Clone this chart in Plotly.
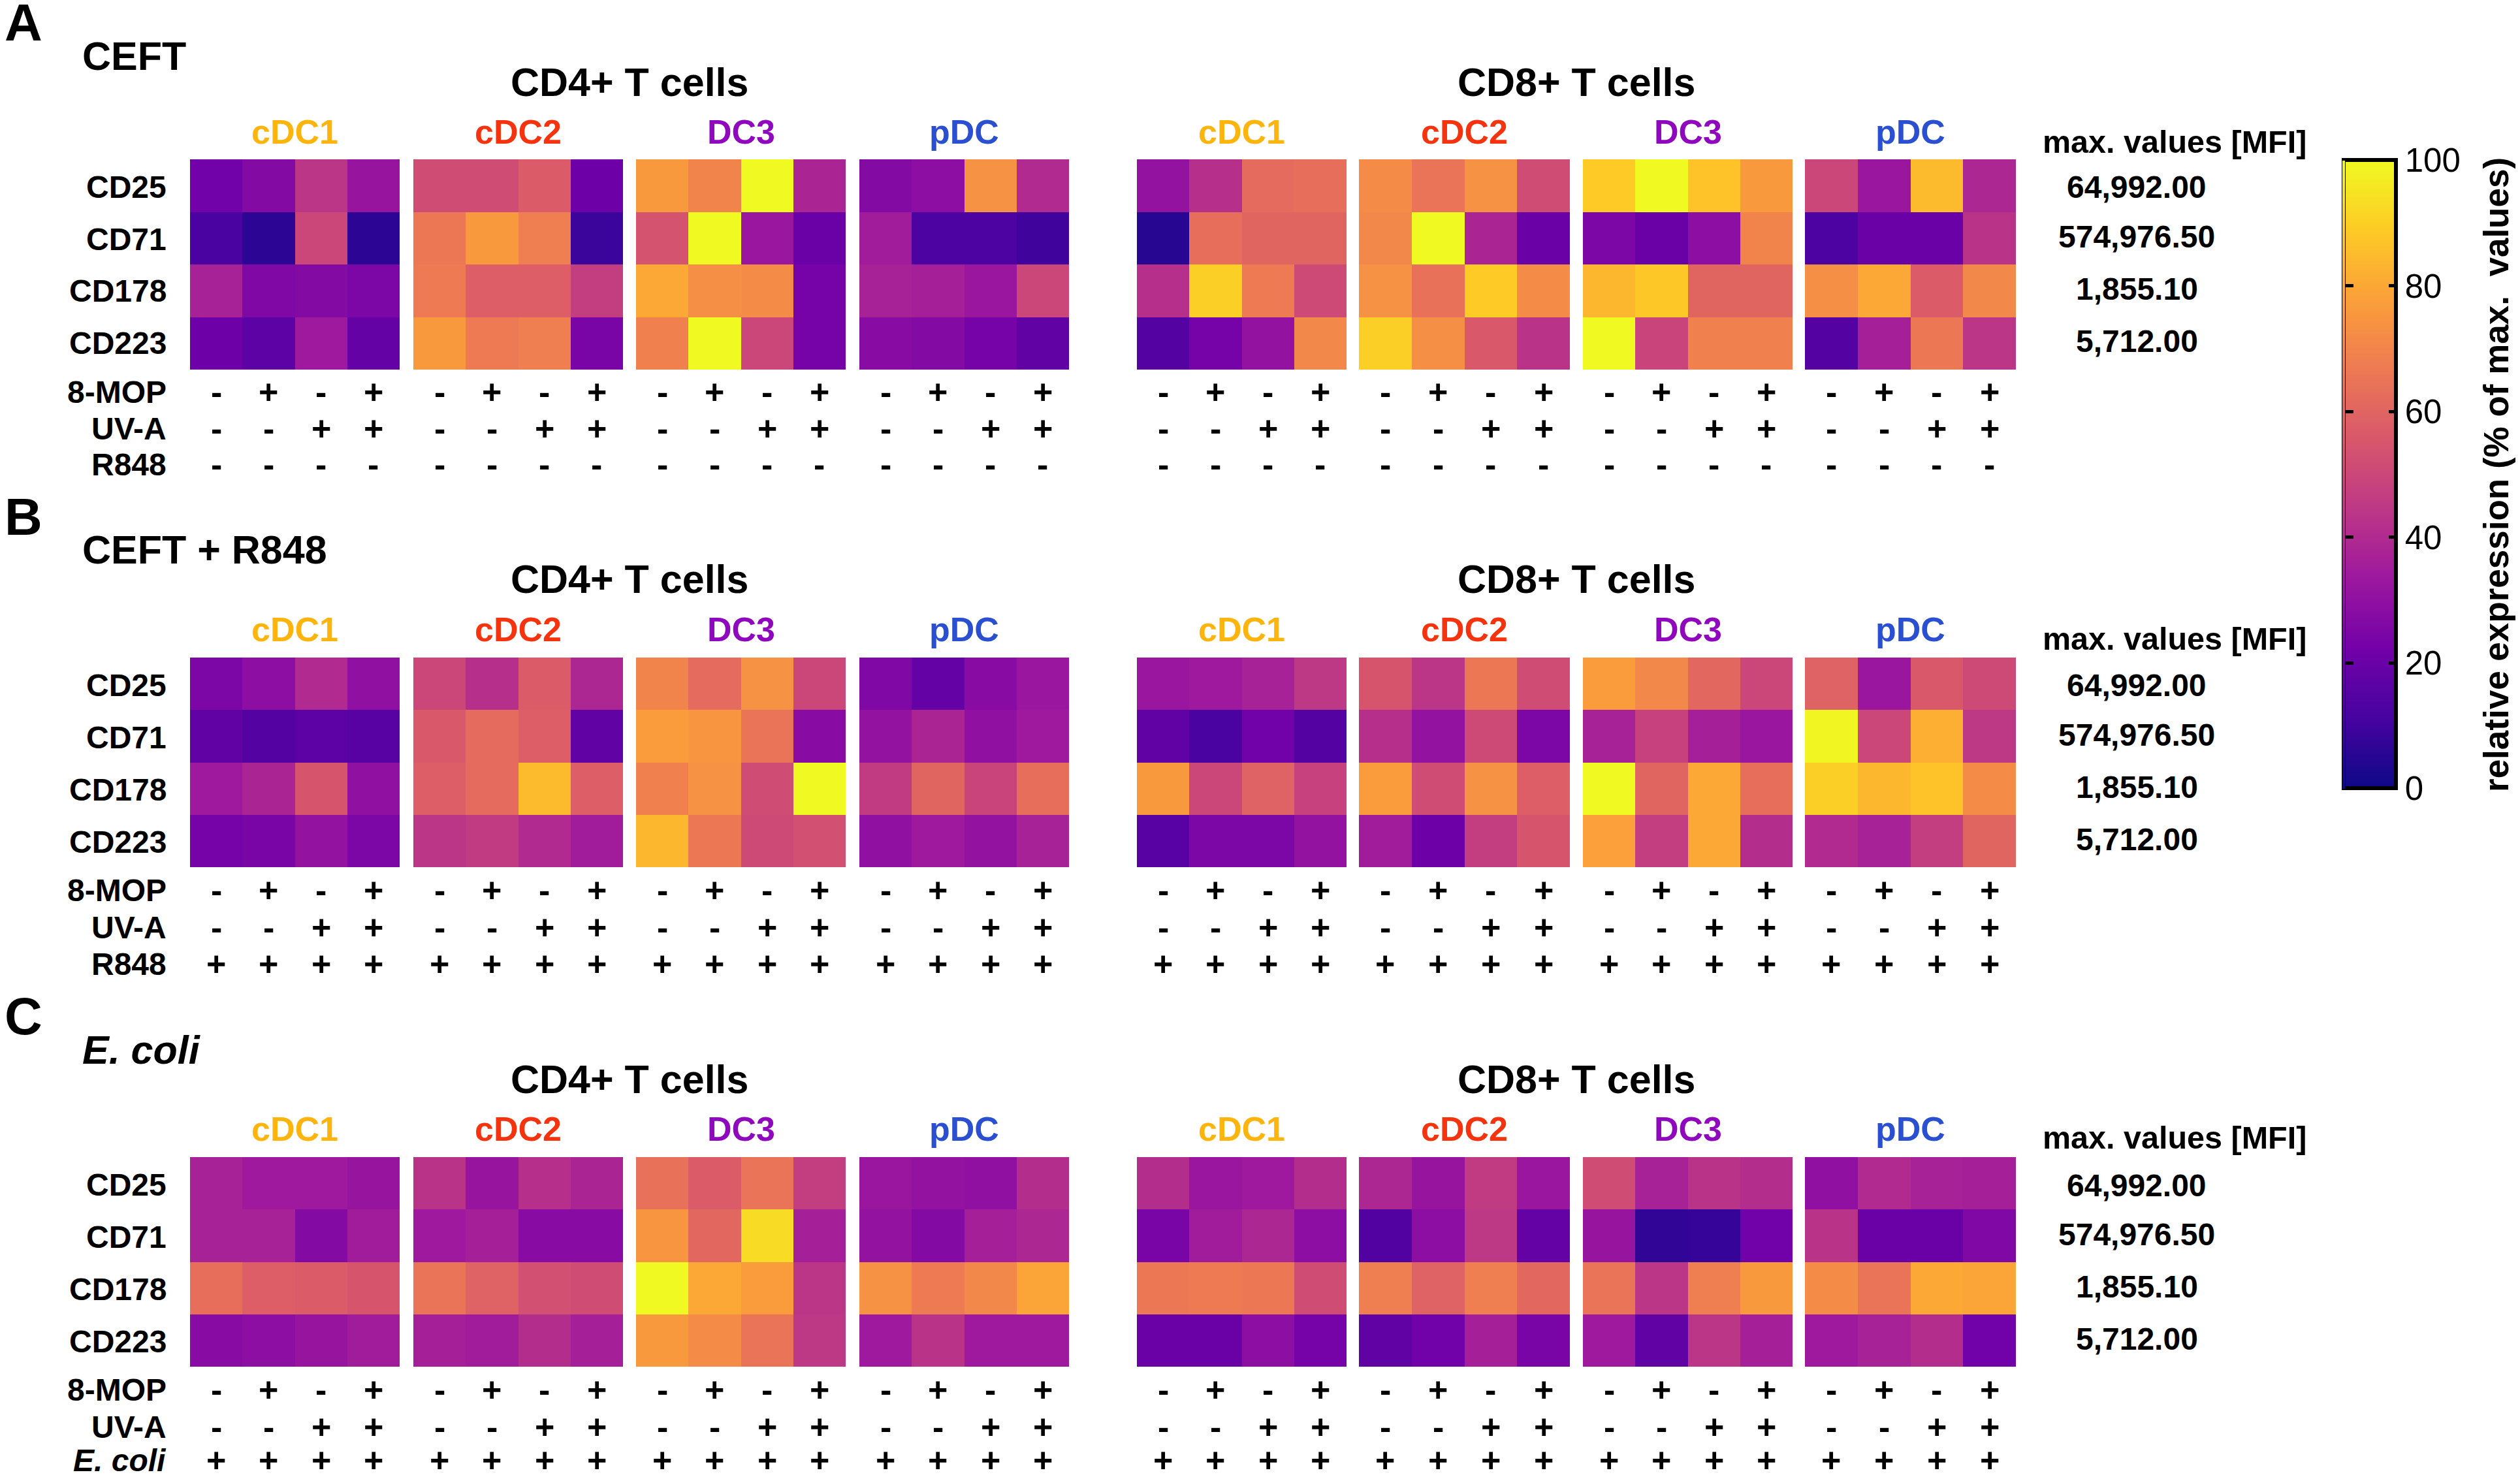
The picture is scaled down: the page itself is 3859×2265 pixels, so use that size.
import plotly.graph_objects as go

# Values (% of max. values), rows are CD25, CD71, CD178, CD223
A_CD4_cDC1 = [[22, 27, 44, 32], [12, 6, 50, 6], [37, 26, 27, 25], [21, 17, 34, 19]]
A_CD4_cDC2 = [[52, 52, 57, 21], [66, 76, 68, 9], [67, 58, 58, 47], [76, 67, 68, 24]]
A_CD4_DC3 = [[76, 70, 100, 38], [54, 100, 33, 20], [80, 73, 72, 23], [69, 100, 50, 23]]
A_CD4_pDC = [[27, 29, 74, 40], [35, 13, 13, 10], [37, 36, 33, 50], [28, 27, 23, 18]]
A_CD8_cDC1 = [[31, 42, 62, 63], [5, 63, 60, 60], [42, 90, 67, 51], [15, 23, 31, 71]]
A_CD8_cDC2 = [[72, 65, 74, 52], [71, 100, 38, 20], [74, 64, 89, 72], [90, 73, 56, 43]]
A_CD8_DC3 = [[89, 100, 87, 76], [25, 20, 29, 70], [84, 88, 60, 60], [100, 49, 69, 69]]
A_CD8_pDC = [[50, 33, 85, 39], [13, 20, 20, 43], [73, 80, 57, 71], [15, 36, 66, 44]]

B_CD4_cDC1 = [[25, 29, 40, 30], [18, 15, 17, 16], [34, 38, 55, 30], [23, 24, 31, 25]]
B_CD4_cDC2 = [[50, 42, 57, 39], [56, 62, 58, 18], [58, 62, 85, 58], [44, 46, 40, 35]]
B_CD4_DC3 = [[70, 62, 74, 50], [77, 75, 65, 28], [69, 74, 52, 100], [84, 66, 51, 53]]
B_CD4_pDC = [[26, 19, 28, 33], [31, 38, 30, 34], [46, 60, 49, 63], [30, 34, 31, 37]]
B_CD8_cDC1 = [[33, 34, 37, 45], [18, 12, 22, 15], [76, 50, 59, 48], [16, 25, 25, 31]]
B_CD8_cDC2 = [[55, 44, 66, 52], [42, 31, 51, 25], [77, 52, 74, 58], [35, 21, 47, 55]]
B_CD8_DC3 = [[77, 71, 61, 50], [37, 48, 36, 33], [100, 60, 80, 63], [78, 47, 80, 41]]
B_CD8_pDC = [[59, 33, 56, 51], [99, 50, 82, 45], [90, 84, 87, 72], [40, 37, 47, 60]]

C_CD4_cDC1 = [[37, 34, 34, 32], [37, 37, 27, 35], [63, 58, 57, 55], [28, 29, 32, 35]]
C_CD4_cDC2 = [[43, 32, 42, 38], [34, 36, 28, 28], [65, 59, 53, 52], [36, 35, 41, 36]]
C_CD4_DC3 = [[64, 57, 65, 47], [75, 61, 93, 36], [100, 80, 77, 44], [76, 72, 65, 45]]
C_CD4_pDC = [[33, 31, 30, 41], [31, 27, 36, 39], [74, 67, 71, 79], [34, 43, 34, 34]]
C_CD8_cDC1 = [[41, 33, 34, 41], [24, 35, 39, 29], [66, 67, 66, 52], [20, 20, 29, 23]]
C_CD8_cDC2 = [[39, 32, 46, 33], [14, 29, 45, 19], [68, 59, 68, 61], [18, 22, 36, 24]]
C_CD8_DC3 = [[52, 37, 43, 41], [32, 7, 8, 22], [65, 44, 68, 76], [34, 18, 44, 36]]
C_CD8_pDC = [[30, 40, 37, 36], [43, 20, 20, 26], [72, 65, 80, 79], [34, 37, 41, 22]]

rows = ["CD25", "CD71", "CD178", "CD223"]
columns = [0, 1, 2, 3]
max_values = ["64,992.00", "574,976.50", "1,855.10", "5,712.00"]
subsets = ["cDC1", "cDC2", "DC3", "pDC"]
subset_colors = ["#FDB50E", "#F5340F", "#8F08BE", "#2A4FD0"]
t_cells = ["CD4+ T cells", "CD8+ T cells"]
mop_signs = ["-", "+", "-", "+"]
uva_signs = ["-", "-", "+", "+"]
panel_letters = ["A", "B", "C"]
panel_names = ["CEFT", "CEFT + R848", "<i>E. coli</i>"]
third_labels = ["R848", "R848", "<i>E. coli</i>"]
third_signs = ["-", "+", "+"]
cbar_ticks = [0, 20, 40, 60, 80, 100]

panels = [
    [A_CD4_cDC1, A_CD4_cDC2, A_CD4_DC3, A_CD4_pDC, A_CD8_cDC1, A_CD8_cDC2, A_CD8_DC3, A_CD8_pDC],
    [B_CD4_cDC1, B_CD4_cDC2, B_CD4_DC3, B_CD4_pDC, B_CD8_cDC1, B_CD8_cDC2, B_CD8_DC3, B_CD8_pDC],
    [C_CD4_cDC1, C_CD4_cDC2, C_CD4_DC3, C_CD4_pDC, C_CD8_cDC1, C_CD8_cDC2, C_CD8_DC3, C_CD8_pDC],
]

# Layout in pixels of the 3859x2265 picture
W, H = 3859, 2265
FONT = "Liberation Sans"
map_x = [(291, 612), (633, 954), (974, 1295), (1316, 1637),
         (1741, 2062), (2081, 2404), (2424, 2745), (2764, 3087)]
map_y = [(244, 566), (1007, 1328), (1772, 2093)]
letter_y = [35, 791, 1556]
name_y = [86, 842, 1608]
cell_y = [126, 887, 1653]
subset_y = [202, 964, 1729]
mfi_y = [217, 978, 1742]
sign_y = [(600, 656, 711), (1363, 1420, 1476), (2128, 2185, 2236)]
label_offset = [42, 122, 202, 282]
value_offset = [43, 118, 198, 278]


def px(x):
    return x / W


def py(y):
    return 1 - y / H


def add_text(text, x, y, size, color="black", xanchor="center", xref="paper", angle=0):
    fig.add_annotation(text="<b>" + text + "</b>", x=x, y=y, xref=xref, yref="paper",
                       xanchor=xanchor, yanchor="middle", showarrow=False, textangle=angle,
                       font=dict(family=FONT, size=size, color=color))


fig = go.Figure()
n = 0
for p, panel in enumerate(panels):
    for m, values in enumerate(panel):
        n += 1
        colorbar = None
        if n == 1:
            # gradient bar with ticks on its right side
            colorbar = dict(x=px(3589), xanchor="left", xpad=0, ypad=0, thickness=80,
                            y=py(726.5), yanchor="middle", lenmode="pixels", len=962,
                            outlinewidth=6, outlinecolor="black",
                            tickmode="array", tickvals=cbar_ticks, ticks="inside", ticklen=14,
                            tickwidth=5, tickcolor="black", tickprefix="\u00a0\u00a0",
                            tickfont=dict(family=FONT, size=51, color="black"))
        elif n == 2:
            # hairline bar under the left border, only for the ticks on the left side
            colorbar = dict(x=px(3587), xanchor="left", xpad=0, ypad=0, thickness=4,
                            y=py(726.5), yanchor="middle", lenmode="pixels", len=962,
                            outlinewidth=0, tickmode="array", tickvals=cbar_ticks[1:-1],
                            ticks="outside", ticklen=13, tickwidth=5, tickcolor="black",
                            showticklabels=False)
        fig.add_trace(go.Heatmap(z=values, x=columns, y=rows, zmin=0, zmax=100,
                                 colorscale="Plasma", showscale=n <= 2, colorbar=colorbar,
                                 xaxis="x%d" % n, yaxis="y%d" % n))
        fig.layout["xaxis%d" % n] = dict(domain=[px(map_x[m][0]), px(map_x[m][1])], anchor="y%d" % n,
                                         visible=False, range=[-0.5, 3.5])
        fig.layout["yaxis%d" % n] = dict(domain=[py(map_y[p][1]), py(map_y[p][0])], anchor="x%d" % n,
                                         visible=False, autorange="reversed")

        # subset header and the sign rows under each map
        add_text(subsets[m % 4], (map_x[m][0] + map_x[m][1]) / 2 / W, py(subset_y[p]), 52, subset_colors[m % 4])
        for c in columns:
            add_text(mop_signs[c], c, py(sign_y[p][0]), 52, xref="x%d" % n)
            add_text(uva_signs[c], c, py(sign_y[p][1]), 52, xref="x%d" % n)
            add_text(third_signs[p], c, py(sign_y[p][2]), 52, xref="x%d" % n)

    add_text(panel_letters[p], px(5), py(letter_y[p]), 80, xanchor="left")
    add_text(panel_names[p], px(124), py(name_y[p]), 61, xanchor="left")
    add_text(t_cells[0], px(964), py(cell_y[p]), 61)
    add_text(t_cells[1], px(2414), py(cell_y[p]), 61)
    add_text("max. values [MFI]", px(3330), py(mfi_y[p]), 48.5)
    for r, row in enumerate(rows):
        add_text(row, px(257), py(map_y[p][0] + label_offset[r]), 48, xanchor="right")
        add_text(max_values[r], px(3272), py(map_y[p][0] + value_offset[r]), 48)
    add_text("8-MOP", px(257), py(sign_y[p][0]), 48, xanchor="right")
    add_text("UV-A", px(257), py(sign_y[p][1]), 48, xanchor="right")
    add_text(third_labels[p], px(257), py(sign_y[p][2]), 48, xanchor="right")

add_text("relative expression (% of max.\u00a0\u00a0values)", px(3822), py(727), 53, angle=-90)

fig.update_layout(width=W, height=H, margin=dict(l=0, r=0, t=0, b=0),
                  paper_bgcolor="white", plot_bgcolor="white", showlegend=False)
fig.write_html("out.html", config={"displayModeBar": False},
               post_script="document.body.style.margin = '0';")
